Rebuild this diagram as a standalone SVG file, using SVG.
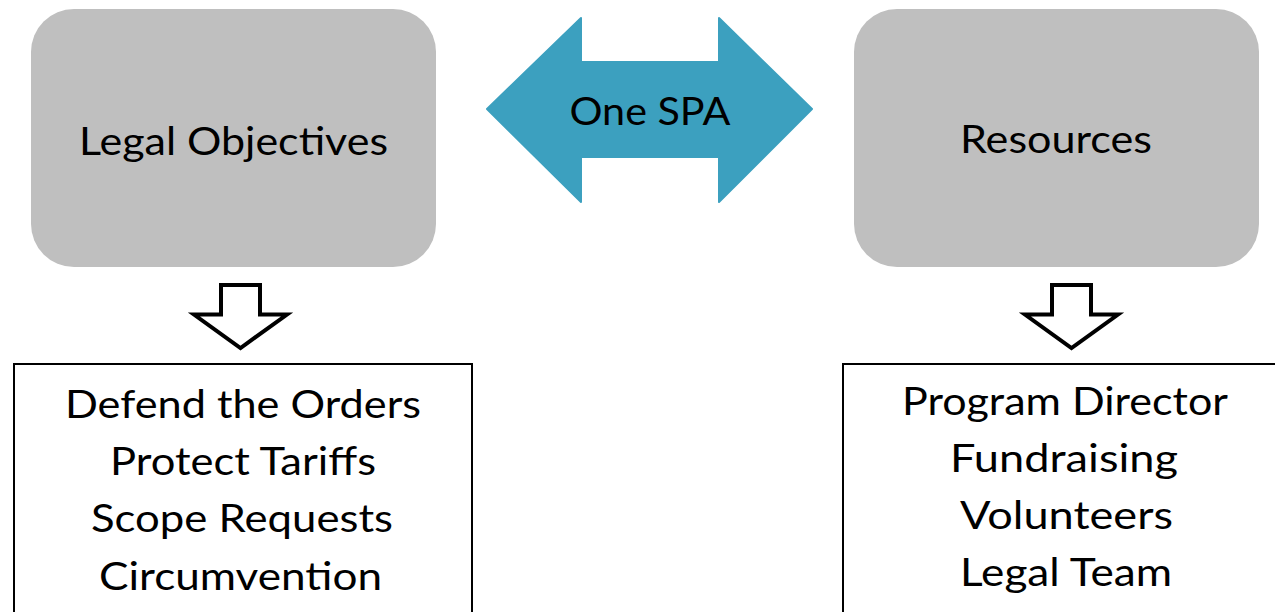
<svg xmlns="http://www.w3.org/2000/svg" width="1275" height="612" viewBox="0 0 1275 612">
<defs>
<style>
.t{font-family:Lato,"Open Sans","Liberation Sans",sans-serif;font-size:38px;fill:#000;text-anchor:middle}
.gray{fill:#BFBFBF}
.box{fill:#fff;stroke:#000;stroke-width:2}
.down{fill:#fff;stroke:#000;stroke-width:4;stroke-linejoin:miter}
.dbl{fill:#3CA0BF;stroke:#3CA0BF;stroke-width:2;stroke-linejoin:round}
</style>
</defs>
<rect width="1275" height="612" fill="#fff"/>
<g id="legal-objectives">
<rect class="gray" x="31" y="9" width="405" height="258" rx="43"/>
<text class="t" x="233.5" y="155" textLength="309" lengthAdjust="spacingAndGlyphs">Legal Objectives</text>
</g>
<g id="resources">
<rect class="gray" x="854" y="9" width="405" height="258" rx="43"/>
<text class="t" x="1056" y="153" textLength="192" lengthAdjust="spacingAndGlyphs">Resources</text>
</g>
<g id="connectors">
<g id="one-spa">
<polygon class="dbl" points="487,109 581,18 581,62 719,62 719,18 812,109 719,202 719,157 581,157 581,202"/>
<text class="t" x="650" y="125" textLength="161" lengthAdjust="spacingAndGlyphs">One SPA</text>
</g>
<polygon class="down" points="221,285 260,285 260,314.5 287,314.5 240.5,348 194,314.5 221,314.5"/>
<polygon class="down" points="1052,285 1091,285 1091,314.5 1118,314.5 1071.5,348 1025,314.5 1052,314.5"/>
</g>
<g id="legal-list">
<rect class="box" x="14" y="364" width="458" height="270"/>
<text class="t" x="243" y="418" textLength="356" lengthAdjust="spacingAndGlyphs">Defend the Orders</text>
<text class="t" x="243" y="475" textLength="266" lengthAdjust="spacingAndGlyphs">Protect Tariffs</text>
<text class="t" x="242" y="532" textLength="302" lengthAdjust="spacingAndGlyphs">Scope Requests</text>
<text class="t" x="240.5" y="590" textLength="283" lengthAdjust="spacingAndGlyphs">Circumvention</text>
</g>
<g id="resources-list">
<rect class="box" x="843" y="364" width="460" height="270"/>
<text class="t" x="1065" y="415" textLength="326" lengthAdjust="spacingAndGlyphs">Program Director</text>
<text class="t" x="1064" y="472" textLength="228" lengthAdjust="spacingAndGlyphs">Fundraising</text>
<text class="t" x="1066.5" y="529" textLength="213" lengthAdjust="spacingAndGlyphs">Volunteers</text>
<text class="t" x="1066" y="586" textLength="212" lengthAdjust="spacingAndGlyphs">Legal Team</text>
</g>
</svg>
